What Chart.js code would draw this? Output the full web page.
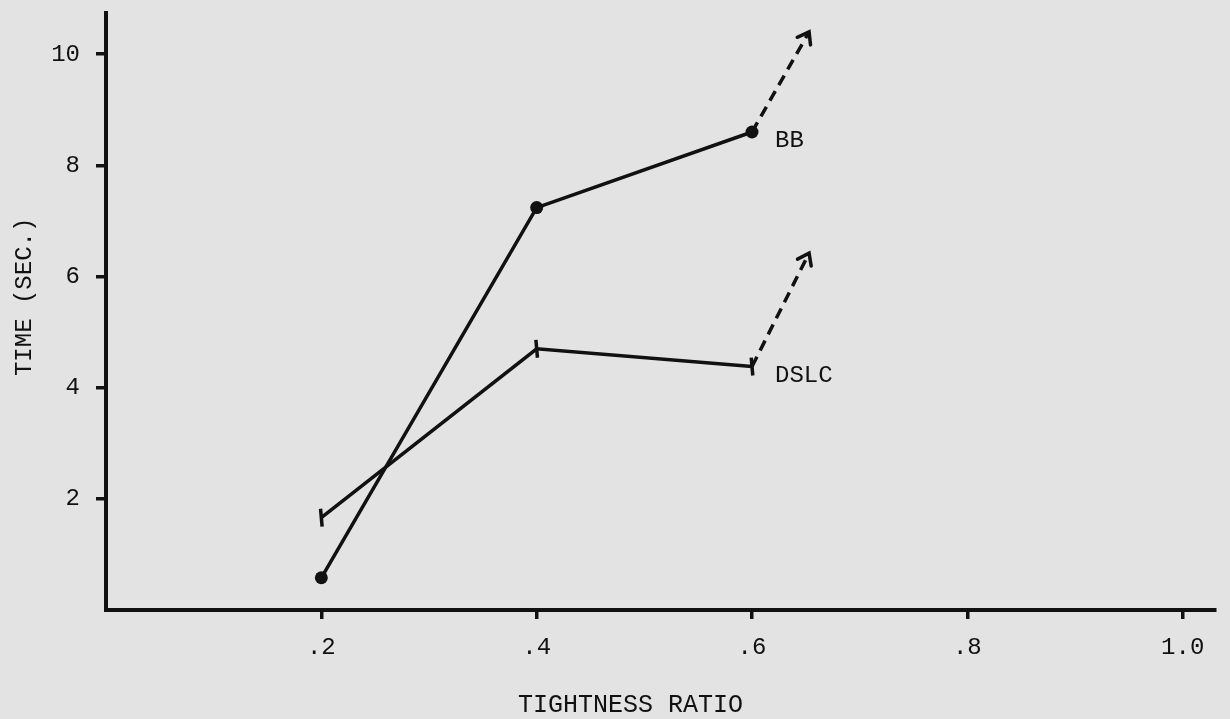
<!DOCTYPE html>
<html>
<head>
<meta charset="utf-8">
<title>Time vs tightness ratio</title>
<script src="https://cdn.jsdelivr.net/npm/chart.js@4/dist/chart.umd.min.js"></script>
<style>
  html, body { margin: 0; padding: 0; background: #e3e3e3; }
  #wrap { width: 1230px; height: 719px; position: relative; }
</style>
</head>
<body>
<div id="wrap"><canvas id="graph1"></canvas></div>
<script>
// values
const ratio = [0.2, 0.4, 0.6];
const bbTime = [0.58, 7.24, 8.6];
const dslcTime = [1.66, 4.7, 4.38];

// dashed "keeps rising" arrows
const bbArrowX = [0.6, 0.653];
const bbArrowY = [8.6, 10.4];
const dslcArrowX = [0.6, 0.653];
const dslcArrowY = [4.38, 6.42];

const seriesNames = ['BB', 'DSLC'];
const xTicks = [0.2, 0.4, 0.6, 0.8, 1.0];
const xTickLabels = ['.2', '.4', '.6', '.8', '1.0'];
const yTicks = [2, 4, 6, 8, 10];

const INK = '#111111';
const FONT = "'Courier New', 'Nimbus Mono PS', 'FreeMono', 'Liberation Mono', 'DejaVu Sans Mono', monospace";

function toPoints(xs, ys) {
    return xs.map((x, i) => ({ x: x, y: ys[i] }));
}

/*
    arrowHeads
    draws an open chevron at the end of every dataset flagged with arrow: true
*/
const arrowHeads = {
    id: 'arrowHeads',
    afterDatasetsDraw(chart) {
        const ctx = chart.ctx;
        chart.data.datasets.forEach((ds, i) => {
            if (!ds.arrow) return;
            const pts = chart.getDatasetMeta(i).data;
            const a = pts[pts.length - 2], b = pts[pts.length - 1];
            const ang = Math.atan2(b.y - a.y, b.x - a.x);
            const len = 13;
            ctx.save();
            ctx.strokeStyle = INK;
            ctx.lineWidth = 3.5;
            ctx.lineCap = 'round';
            ctx.beginPath();
            ctx.moveTo(b.x + Math.cos(ang + Math.PI * 0.8) * len, b.y + Math.sin(ang + Math.PI * 0.8) * len);
            ctx.lineTo(b.x, b.y);
            ctx.lineTo(b.x + Math.cos(ang - Math.PI * 0.8) * len, b.y + Math.sin(ang - Math.PI * 0.8) * len);
            ctx.stroke();
            ctx.restore();
        });
    }
};

/*
    seriesLabels
    writes the series name just right of each series' last point
*/
const seriesLabels = {
    id: 'seriesLabels',
    afterDatasetsDraw(chart) {
        const ctx = chart.ctx;
        ctx.save();
        ctx.fillStyle = INK;
        ctx.font = '24px ' + FONT;
        ctx.textAlign = 'left';
        ctx.textBaseline = 'middle';
        chart.data.datasets.forEach((ds, i) => {
            if (!ds.seriesName) return;
            const pts = chart.getDatasetMeta(i).data;
            const p = pts[pts.length - 1];
            ctx.fillText(ds.seriesName, p.x + 23, p.y + 9);
        });
        ctx.restore();
    }
};

const g1 = new Chart('graph1', {
    type: 'line',
    data: {
        datasets: [
            {
                data: toPoints(ratio, bbTime),
                seriesName: seriesNames[0],
                borderColor: INK,
                backgroundColor: INK,
                borderWidth: 3.5,
                pointStyle: 'circle',
                pointRadius: 6.5,
                pointBorderWidth: 0,
                tension: 0
            },
            {
                data: toPoints(ratio, dslcTime),
                seriesName: seriesNames[1],
                borderColor: INK,
                backgroundColor: INK,
                borderWidth: 3.5,
                pointStyle: 'line',
                pointRotation: 85,
                pointRadius: 9,
                pointBorderWidth: 3.5,
                tension: 0
            },
            {
                data: toPoints(bbArrowX, bbArrowY),
                arrow: true,
                borderColor: INK,
                borderWidth: 3.5,
                borderDash: [11, 7],
                pointRadius: 0,
                tension: 0
            },
            {
                data: toPoints(dslcArrowX, dslcArrowY),
                arrow: true,
                borderColor: INK,
                borderWidth: 3.5,
                borderDash: [11, 7],
                pointRadius: 0,
                tension: 0
            }
        ]
    },
    options: {
        responsive: true,
        maintainAspectRatio: false,
        animation: false,
        layout: { padding: { top: 12, right: 15, bottom: 0, left: 0 } },
        plugins: {
            legend: { display: false },
            tooltip: { enabled: false }
        },
        scales: {
            x: {
                type: 'linear',
                min: 0,
                max: 1.03,
                afterBuildTicks: (s) => { s.ticks = xTicks.map(v => ({ value: v })); },
                afterFit: (s) => { s.height = 109; s.paddingLeft = 0; s.paddingRight = 0; },
                border: { display: true, color: INK, width: 4 },
                grid: { drawOnChartArea: false, drawTicks: true, tickLength: 9, tickColor: INK, lineWidth: 3.5 },
                ticks: {
                    color: INK,
                    padding: 14,
                    maxRotation: 0,
                    font: { family: FONT, size: 24 },
                    callback: (v) => xTickLabels[xTicks.indexOf(v)]
                },
                title: {
                    display: true,
                    text: 'TIGHTNESS RATIO    ',
                    color: INK,
                    font: { family: FONT, size: 25, lineHeight: 1 },
                    padding: { top: 0, bottom: 1 }
                }
            },
            y: {
                min: 0,
                max: 10.75,
                afterBuildTicks: (s) => { s.ticks = yTicks.map(v => ({ value: v })); },
                afterFit: (s) => { s.width = 106; s.paddingTop = 0; s.paddingBottom = 0; },
                border: { display: true, color: INK, width: 4 },
                grid: { drawOnChartArea: false, drawTicks: true, tickLength: 10, tickColor: INK, lineWidth: 3.5 },
                ticks: {
                    color: INK,
                    padding: 16,
                    font: { family: FONT, size: 24 }
                },
                title: {
                    display: true,
                    text: '  TIME (SEC.)',
                    color: INK,
                    font: { family: FONT, size: 24, lineHeight: 1.2 },
                    padding: { top: 10, bottom: 0 }
                }
            }
        }
    },
    plugins: [arrowHeads, seriesLabels]
});
</script>
</body>
</html>
